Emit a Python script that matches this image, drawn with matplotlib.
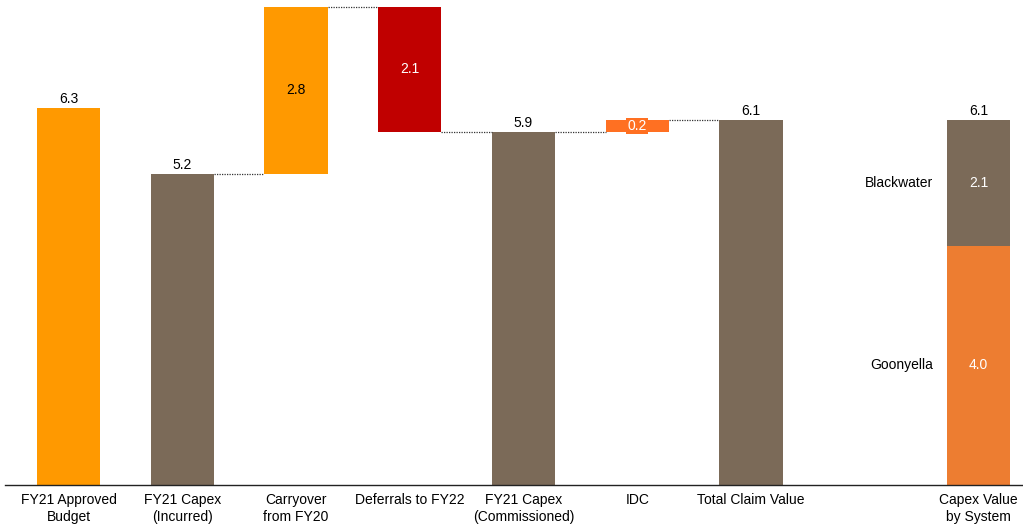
import numpy as np
import matplotlib.pyplot as plt

plt.rcParams['font.family'] = ['Liberation Sans', 'DejaVu Sans']

# Daten
categories = ["FY21 Approved\nBudget", "FY21 Capex\n(Incurred)", "Carryover\nfrom FY20",
              "Deferrals to FY22", "FY21 Capex\n(Commissioned)", "IDC", "Total Claim Value",
              "", "Capex Value\nby System"]
approved_budget = 6.3
capex_incurred = 5.2
carryover = 2.8
deferrals = -2.1
idc = 0.2
system_names = ["Goonyella", "Blackwater"]
system_values = [4.0, 2.1]

orange = "#FF9900"
brown = "#7B6A58"
red = "#C00000"
idc_orange = "#FF7022"
goon_orange = "#ED7D31"

commissioned = capex_incurred + carryover + deferrals
total = commissioned + idc

fig = plt.figure(figsize=(10.23, 5.26), dpi=100)
ax = fig.add_axes([5 / 1023, 0.078, 1 - 5 / 1023, 0.922])

w = 0.555
x = np.arange(len(categories))

# Balken: (x, bottom, height, colour)
bars = [
    (0, 0, approved_budget, orange),
    (1, 0, capex_incurred, brown),
    (2, capex_incurred, carryover, orange),
    (3, capex_incurred + carryover + deferrals, -deferrals, red),
    (4, 0, commissioned, brown),
    (5, commissioned, idc, idc_orange),
    (6, 0, total, brown),
]
for xi, b, h, c in bars:
    ax.bar(xi, h, bottom=b, width=w, color=c, edgecolor='none')

# gestapelt nach System
ax.bar(8, system_values[0], width=w, color=goon_orange)
ax.bar(8, system_values[1], bottom=system_values[0], width=w, color=brown)

# Verbindungslinien
conn = [(1, capex_incurred), (2, capex_incurred + carryover), (3, commissioned),
        (4, commissioned), (5, total)]
for xi, yv in conn:
    ax.plot([xi + w / 2, xi + 1 - w / 2], [yv, yv], color='#333333', lw=0.9,
            ls=(0, (1, 1)))

# Beschriftungen
fs = 10
off = 0.03
ax.text(0, approved_budget + off, f"{approved_budget:.1f}", ha='center', va='bottom', fontsize=fs)
ax.text(1, capex_incurred + off, f"{capex_incurred:.1f}", ha='center', va='bottom', fontsize=fs)
ax.text(2, capex_incurred + carryover / 2, f"{carryover:.1f}", ha='center', va='center', fontsize=fs)
ax.text(3, commissioned - deferrals / 2, f"{-deferrals:.1f}", ha='center', va='center',
        fontsize=fs, color='white')
ax.text(4, commissioned + off, f"{commissioned:.1f}", ha='center', va='bottom', fontsize=fs)
ax.text(5, commissioned + idc / 2, f"{idc:.1f}", ha='center', va='center', fontsize=fs,
        color='white', bbox=dict(facecolor=idc_orange, edgecolor='none', pad=0.8))
ax.text(6, total + off, f"{total:.1f}", ha='center', va='bottom', fontsize=fs)
ax.text(8, sum(system_values) + off, f"{sum(system_values):.1f}", ha='center', va='bottom', fontsize=fs)
ax.text(8, system_values[0] / 2, f"{system_values[0]:.1f}", ha='center', va='center',
        fontsize=fs, color='white')
ax.text(8, system_values[0] + system_values[1] / 2, f"{system_values[1]:.1f}", ha='center',
        va='center', fontsize=fs, color='white')
ax.text(8 - w / 2 - 0.12, system_values[0] / 2, system_names[0], ha='right', va='center', fontsize=fs)
ax.text(8 - w / 2 - 0.12, system_values[0] + system_values[1] / 2, system_names[1], ha='right',
        va='center', fontsize=fs)

ax.set_xlim(-0.558, 8.391)
ax.set_ylim(0, 8.11)
ax.set_xticks(x)
ax.set_xticklabels(categories, fontsize=fs)
ax.tick_params(axis='x', length=0, pad=6)
ax.set_yticks([])
for s in ['top', 'right', 'left']:
    ax.spines[s].set_visible(False)
ax.spines['bottom'].set_color('#222222')
ax.spines['bottom'].set_linewidth(1.0)

fig.savefig("out.png", dpi=100)
